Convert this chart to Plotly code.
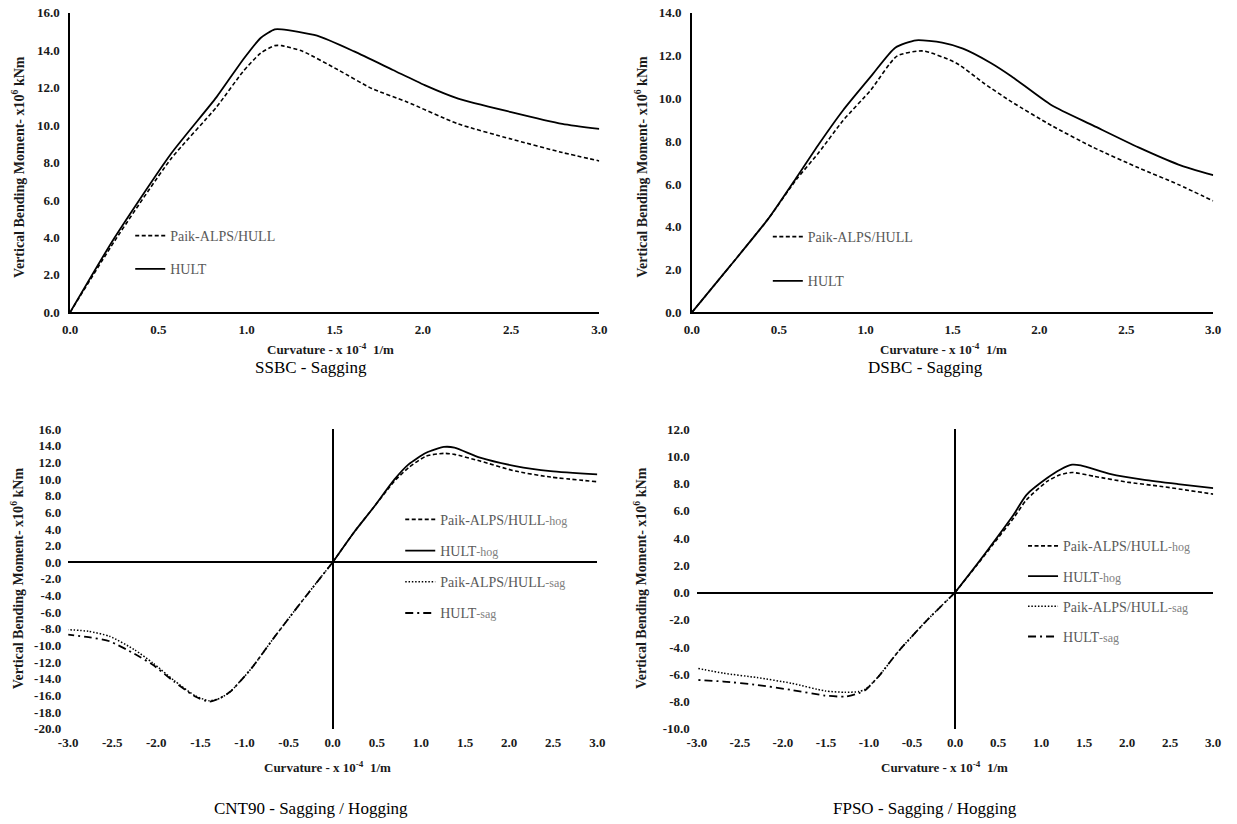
import plotly.graph_objects as go

W, H = 1237, 824

# ---------------- data ----------------
# SSBC - Sagging
ssbc_x_hult = [0, 0.25, 0.57, 0.83, 0.98, 1.08, 1.16, 1.20, 1.40, 1.61, 1.83, 2.01, 2.20, 2.50, 2.79, 3.0]
ssbc_m_hult = [0, 3.96, 8.45, 11.5, 13.5, 14.66, 15.12, 15.12, 14.78, 13.94, 12.95, 12.14, 11.42, 10.70, 10.07, 9.80]
ssbc_x_paik = [0, 0.25, 0.57, 0.83, 0.98, 1.08, 1.16, 1.20, 1.32, 1.52, 1.71, 1.91, 2.20, 2.50, 2.79, 3.0]
ssbc_m_paik = [0, 3.78, 8.18, 10.97, 12.86, 13.85, 14.25, 14.25, 13.94, 12.95, 11.96, 11.24, 10.07, 9.26, 8.54, 8.09]

# DSBC - Sagging
dsbc_x_hult = [0, 0.22, 0.44, 0.60, 0.73, 0.87, 1.03, 1.17, 1.29, 1.44, 1.56, 1.72, 1.84, 2.07, 2.31, 2.57, 2.80, 3.0]
dsbc_m_hult = [0, 2.17, 4.38, 6.28, 7.86, 9.45, 11.03, 12.37, 12.72, 12.61, 12.33, 11.66, 11.03, 9.68, 8.73, 7.71, 6.91, 6.41]
dsbc_x_paik = [0, 0.22, 0.44, 0.60, 0.73, 0.87, 1.03, 1.18, 1.33, 1.52, 1.68, 1.84, 2.07, 2.31, 2.57, 2.80, 3.0]
dsbc_m_paik = [0, 2.17, 4.38, 6.20, 7.47, 8.97, 10.40, 11.98, 12.22, 11.66, 10.71, 9.84, 8.73, 7.71, 6.76, 5.97, 5.21]

# CNT90 - Sagging / Hogging
cnt_x_hog = [0, 0.25, 0.46, 0.70, 0.86, 1.06, 1.26, 1.38, 1.67, 2.07, 2.47, 3.0]
cnt_m_hult_hog = [0, 3.73, 6.55, 9.96, 11.77, 13.17, 13.86, 13.78, 12.57, 11.57, 10.96, 10.56]
cnt_m_paik_hog = [0, 3.73, 6.55, 9.76, 11.37, 12.77, 13.09, 12.97, 12.17, 10.96, 10.24, 9.68]
cnt_x_sag = [0, -0.35, -0.67, -0.92, -1.16, -1.28, -1.40, -1.56, -1.80, -2.04, -2.25, -2.53, -2.77, -3.0]
cnt_m_hult_sag = [0, -4.70, -9.12, -12.73, -15.54, -16.35, -16.75, -16.14, -14.34, -12.33, -11.0, -9.5, -9.0, -8.7]
cnt_m_paik_sag = [0, -4.70, -9.12, -12.73, -15.54, -16.35, -16.65, -16.05, -14.2, -12.1, -10.5, -8.9, -8.3, -8.1]

# FPSO - Sagging / Hogging
fpso_x_hult_hog = [0, 0.25, 0.44, 0.68, 0.83, 1.07, 1.22, 1.36, 1.46, 1.81, 2.20, 2.59, 3.0]
fpso_m_hult_hog = [0, 2.03, 3.63, 5.71, 7.18, 8.41, 9.02, 9.39, 9.34, 8.70, 8.28, 7.97, 7.67]
fpso_x_paik_hog = [0, 0.25, 0.44, 0.68, 0.83, 1.07, 1.22, 1.36, 1.62, 2.00, 2.40, 3.0]
fpso_m_paik_hog = [0, 1.98, 3.52, 5.47, 6.81, 8.16, 8.65, 8.82, 8.53, 8.11, 7.79, 7.23]
fpso_x_sag = [0, -0.34, -0.66, -0.89, -1.04, -1.12, -1.28, -1.51, -1.90, -2.30, -2.69, -3.0]
fpso_m_hult_sag = [0, -2.13, -4.34, -6.18, -7.16, -7.40, -7.65, -7.57, -7.16, -6.79, -6.54, -6.42]
fpso_m_paik_sag = [0, -2.13, -4.34, -6.18, -7.10, -7.28, -7.33, -7.23, -6.67, -6.25, -5.93, -5.56]

# ticks
x_ticks_pos = [0.0, 0.5, 1.0, 1.5, 2.0, 2.5, 3.0]
x_ticks_full = [-3.0, -2.5, -2.0, -1.5, -1.0, -0.5, 0.0, 0.5, 1.0, 1.5, 2.0, 2.5, 3.0]
y_ticks_ssbc = [0, 2, 4, 6, 8, 10, 12, 14, 16]
y_ticks_dsbc = [0, 2, 4, 6, 8, 10, 12, 14]
y_ticks_cnt = list(range(-20, 17, 2))
y_ticks_fpso = list(range(-10, 13, 2))

captions = ["SSBC - Sagging", "DSBC - Sagging", "CNT90 - Sagging / Hogging", "FPSO - Sagging / Hogging"]
x_title = "Curvature - x 10<sup>-4</sup>  1/m"
y_title = "Vertical Bending Moment- x10<sup>6</sup> kNm"


def lbl(v):
    return f"{v:.1f}"


SERIF = "Liberation Serif, Times New Roman, DejaVu Serif, serif"
TICKFONT = dict(family=SERIF, size=13, color="#1a1a1a", weight="bold")
LEGFONT = dict(family=SERIF, size=14, color="#595959")

DASH = "4px,2.5px"
DOT = "1.5px,1.8px"
DASHDOT = "8px,4px,2px,4px"


def px_x(p):
    return p / W


def px_y(p):
    return 1 - p / H


fig = go.Figure()


def add(x, y, name, dash, width, xa, ya, leg):
    fig.add_trace(go.Scatter(
        x=x, y=y, name=name, mode="lines",
        line=dict(color="black", width=width, dash=dash, shape="spline", smoothing=0.6),
        xaxis=xa, yaxis=ya, legend=leg, legendgroup=leg + name,
        hoverinfo="skip",
    ))


sfx = lambda s: f'<span style="font-size:12px;color:#808080">{s}</span>'

add(ssbc_x_paik, ssbc_m_paik, "Paik-ALPS/HULL", DASH, 1.6, "x", "y", "legend")
add(ssbc_x_hult, ssbc_m_hult, "HULT", "solid", 1.8, "x", "y", "legend")
add(dsbc_x_paik, dsbc_m_paik, "Paik-ALPS/HULL", DASH, 1.6, "x2", "y2", "legend2")
add(dsbc_x_hult, dsbc_m_hult, "HULT", "solid", 1.8, "x2", "y2", "legend2")
add(cnt_x_hog, cnt_m_paik_hog, "Paik-ALPS/HULL" + sfx("-hog"), DASH, 1.6, "x3", "y3", "legend3")
add(cnt_x_hog, cnt_m_hult_hog, "HULT" + sfx("-hog"), "solid", 1.8, "x3", "y3", "legend3")
add(cnt_x_sag, cnt_m_paik_sag, "Paik-ALPS/HULL" + sfx("-sag"), DOT, 1.5, "x3", "y3", "legend3")
add(cnt_x_sag, cnt_m_hult_sag, "HULT" + sfx("-sag"), DASHDOT, 1.8, "x3", "y3", "legend3")
add(fpso_x_paik_hog, fpso_m_paik_hog, "Paik-ALPS/HULL" + sfx("-hog"), DASH, 1.6, "x4", "y4", "legend4")
add(fpso_x_hult_hog, fpso_m_hult_hog, "HULT" + sfx("-hog"), "solid", 1.8, "x4", "y4", "legend4")
add(fpso_x_sag, fpso_m_paik_sag, "Paik-ALPS/HULL" + sfx("-sag"), DOT, 1.5, "x4", "y4", "legend4")
add(fpso_x_sag, fpso_m_hult_sag, "HULT" + sfx("-sag"), DASHDOT, 1.8, "x4", "y4", "legend4")

# panel pixel boxes: (left, right, top, bottom)
boxes = [(61, 598, 6, 311), (692, 1221, 6, 311), (59, 596, 430, 735), (697, 1221, 430, 735)]
xranges = [[0, 3], [0, 3], [-3, 3], [-3, 3]]
yranges = [[0, 16], [0, 14], [-20, 16], [-10, 12]]
xticks = [x_ticks_pos, x_ticks_pos, x_ticks_full, x_ticks_full]
yticks = [y_ticks_ssbc, y_ticks_dsbc, y_ticks_cnt, y_ticks_fpso]

layout = dict(
    width=W, height=H, margin=dict(l=0, r=0, t=0, b=0),
    paper_bgcolor="white", plot_bgcolor="white", showlegend=True,
)
for i in range(4):
    l, r, t, b = boxes[i]
    sx = "" if i == 0 else str(i + 1)
    centered = i >= 2
    layout["xaxis" + sx] = dict(
        domain=[px_x(l), px_x(r)], range=xranges[i], anchor="y" + sx,
        tickvals=xticks[i], ticktext=[lbl(v) for v in xticks[i]],
        tickfont=TICKFONT, showgrid=False, ticks="",
        showline=not centered, linecolor="black", linewidth=1.5,
        zeroline=centered, zerolinecolor="black", zerolinewidth=1.5,
        fixedrange=True, ticklabelstandoff=4,
    )
    layout["yaxis" + sx] = dict(
        domain=[px_y(b), px_y(t)], range=yranges[i], anchor="x" + sx,
        tickvals=yticks[i], ticktext=[lbl(v) for v in yticks[i]],
        tickfont=TICKFONT, showgrid=False, ticks="",
        showline=not centered, linecolor="black", linewidth=1.5,
        zeroline=centered, zerolinecolor="black", zerolinewidth=1.5,
        fixedrange=True, ticklabelstandoff=6,
    )

leg_common = dict(font=LEGFONT, bgcolor="rgba(0,0,0,0)", xanchor="left", yanchor="top",
                  itemclick=False, itemdoubleclick=False)
layout["legend"] = dict(x=px_x(122), y=px_y(217), tracegroupgap=12, **leg_common)
layout["legend2"] = dict(x=px_x(769), y=px_y(218), tracegroupgap=23, **leg_common)
layout["legend3"] = dict(x=px_x(396), y=px_y(506), tracegroupgap=10, **leg_common)
layout["legend4"] = dict(x=px_x(1028), y=px_y(533), tracegroupgap=9, **leg_common)

ann = []
title_font = dict(family=SERIF, size=13, color="#1a1a1a", weight="bold")
ytitle_font = dict(family=SERIF, size=14, color="#1a1a1a", weight="bold")
xt_pos = [(325, 348), (947, 348), (322, 774), (948, 774)]
yt_pos = [(8, 163), (640, 163), (8, 582), (640, 582)]
cap_pos = [(305, 367), (929, 367), (305, 816), (929, 816)]
for i in range(4):
    ann.append(dict(text=x_title, x=px_x(xt_pos[i][0]), y=px_y(xt_pos[i][1]),
                    xref="paper", yref="paper", showarrow=False, font=title_font,
                    xanchor="center", yanchor="middle"))
    ann.append(dict(text=y_title, x=px_x(yt_pos[i][0]), y=px_y(yt_pos[i][1]),
                    xref="paper", yref="paper", showarrow=False, font=ytitle_font, textangle=-90,
                    xanchor="center", yanchor="middle"))
    ann.append(dict(text=captions[i], x=px_x(cap_pos[i][0]), y=px_y(cap_pos[i][1]),
                    xref="paper", yref="paper", showarrow=False,
                    font=dict(family=SERIF, size=17, color="black"),
                    xanchor="center", yanchor="middle"))
layout["annotations"] = ann

fig.update_layout(**layout)
fig.write_html("out.html", config={"displayModeBar": False},
               post_script="document.body.style.margin='0';document.body.style.overflow='hidden';")
